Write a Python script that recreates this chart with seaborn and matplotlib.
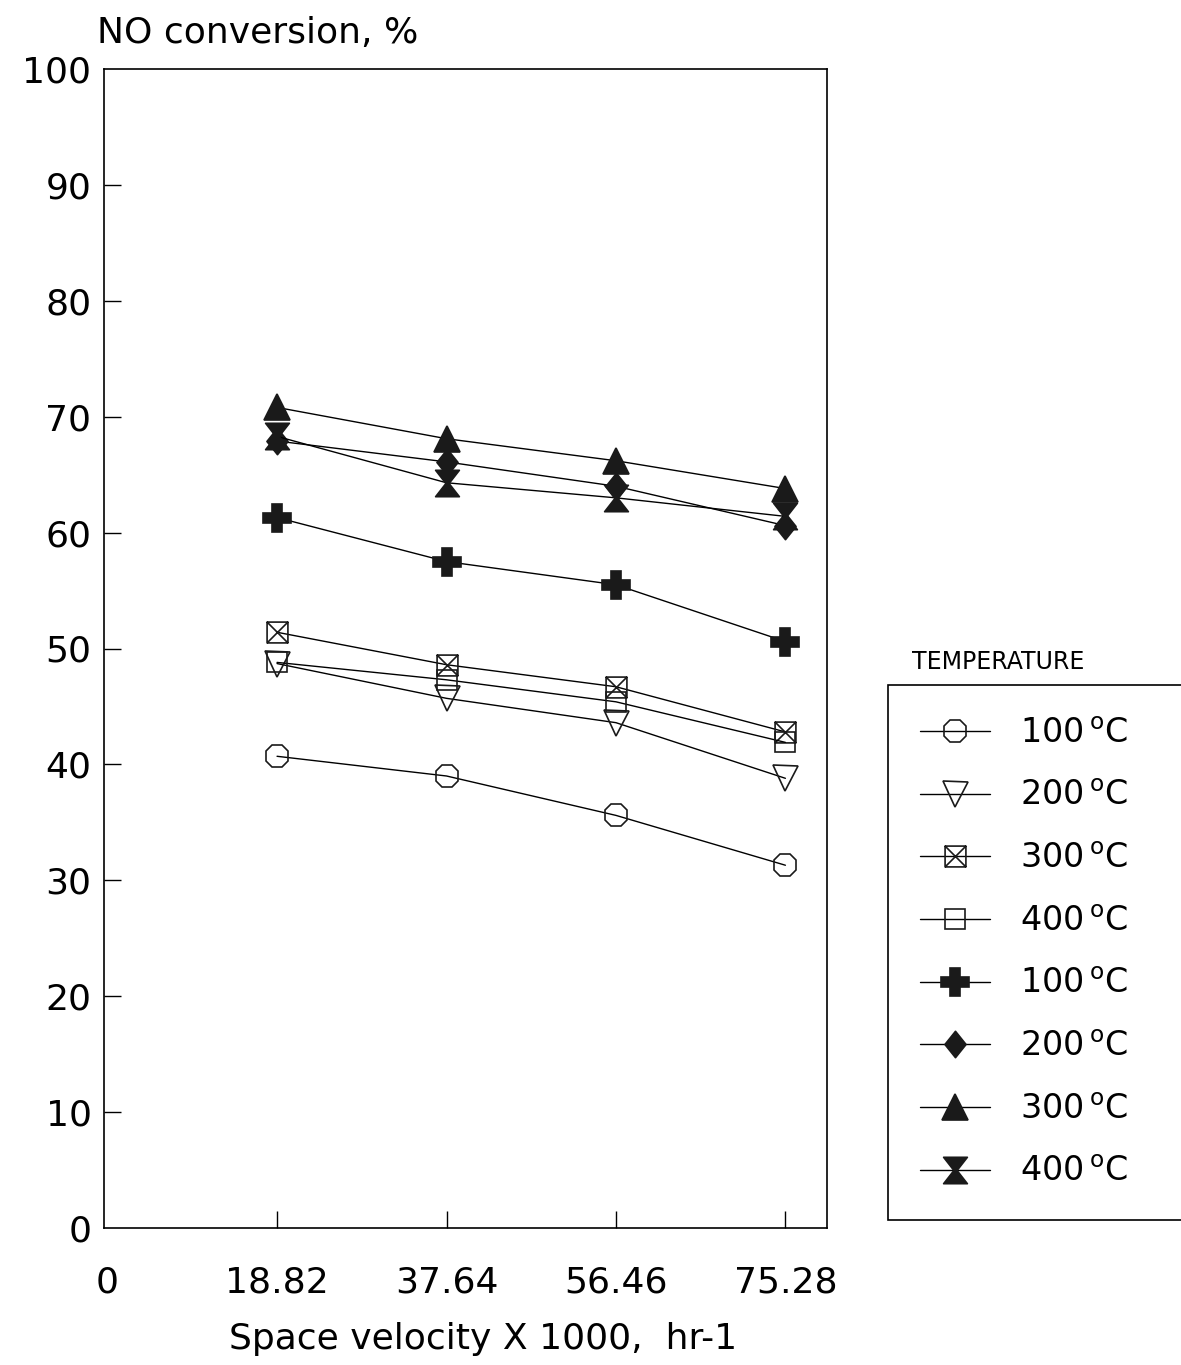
import numpy as np
import seaborn as sns
import matplotlib.pyplot as plt
from matplotlib.path import Path

# space velocity x 1000, hr-1
velocity = [18.82, 37.64, 56.46, 75.28]
tick_labels = ["0", "18.82", "37.64", "56.46", "75.28"]

# NO conversion, %  (open symbols)
open_100 = [40.7, 39.0, 35.6, 31.3]
open_200 = [48.7, 45.7, 43.6, 38.8]
open_300 = [51.4, 48.6, 46.7, 42.8]
open_400 = [48.8, 47.3, 45.4, 41.9]
# filled symbols
filled_100 = [61.3, 57.5, 55.5, 50.6]
filled_200 = [67.9, 66.1, 64.0, 60.6]
filled_300 = [70.8, 68.1, 66.2, 63.8]
filled_400 = [68.3, 64.3, 63.0, 61.4]

labels = ["100$\\,^{\\mathrm{o}}$C", "200$\\,^{\\mathrm{o}}$C",
          "300$\\,^{\\mathrm{o}}$C", "400$\\,^{\\mathrm{o}}$C"] * 2

# custom marker shapes
crossed_box = Path([(-1, -1), (1, -1), (1, 1), (-1, 1), (-1, -1), (1, 1), (-1, 1), (1, -1)],
                   [Path.MOVETO, Path.LINETO, Path.LINETO, Path.LINETO, Path.LINETO,
                    Path.LINETO, Path.MOVETO, Path.LINETO])
diamond = Path([(0, 1), (0.8, 0), (0, -1), (-0.8, 0), (0, 1)],
               [Path.MOVETO, Path.LINETO, Path.LINETO, Path.LINETO, Path.CLOSEPOLY])
hourglass = Path([(-0.9, 1), (0.9, 1), (0.12, 0), (0.9, -1), (-0.9, -1), (-0.12, 0), (-0.9, 1)],
                 [Path.MOVETO, Path.LINETO, Path.LINETO, Path.LINETO, Path.LINETO,
                  Path.LINETO, Path.CLOSEPOLY])

series = [open_100, open_200, open_300, open_400, filled_100, filled_200, filled_300, filled_400]
markers = ["8", "v", crossed_box, "s", "P", diamond, "^", hourglass]
sizes = [17, 18, 15, 15, 20, 19, 19, 19]
filled = [False] * 4 + [True] * 4

sns.set_style("ticks")
plt.rcParams["font.family"] = ["DejaVu Sans"]
plt.rcParams["mathtext.fontset"] = "dejavusans"
plt.rcParams["text.color"] = "black"
plt.rcParams["axes.labelcolor"] = "black"

fig = plt.figure(figsize=(11.81, 13.65), dpi=100)
ax = fig.add_axes([104 / 1181, 1 - 1228 / 1365, 723 / 1181, 1159 / 1365])

for vals, mk, ms, fl, lab in zip(series, markers, sizes, filled, labels):
    sns.lineplot(x=velocity, y=vals, ax=ax, color="black", linewidth=1.0,
                 marker=mk, markersize=ms, markeredgewidth=1.2,
                 markeredgecolor="#1a1a1a",
                 markerfacecolor="#1a1a1a" if fl else "none",
                 label=lab)

ax.set_xlim(-0.4, 79.9)
ax.set_ylim(0, 100)
ax.set_xticks([0] + velocity)
ax.set_xticklabels(tick_labels)
ax.set_yticks(np.arange(0, 101, 10))
ax.tick_params(direction="in", length=12, width=1, labelsize=26, colors="black")
ax.tick_params(axis="x", pad=27)
ax.tick_params(axis="y", pad=9)
# no tick marks where the ticks sit on the frame
ax.xaxis.get_major_ticks()[0].tick1line.set_visible(False)
ax.yaxis.get_major_ticks()[0].tick1line.set_visible(False)
ax.yaxis.get_major_ticks()[-1].tick1line.set_visible(False)
for s in ax.spines.values():
    s.set_linewidth(1.2)
    s.set_color("black")

ax.set_xlabel("Space velocity X 1000,  hr-1", fontsize=26)
ax.xaxis.set_label_coords(0.524, -0.081)
ax.set_ylabel("")
fig.text(97 / 1181, 1 - 33 / 1365, "NO conversion, %", fontsize=26, ha="left", va="center")

leg = ax.legend(loc="upper left", bbox_to_anchor=(888 / 1181, 0, 0.35, 1 - 685 / 1365),
                bbox_transform=fig.transFigure, mode="expand", borderaxespad=0,
                fontsize=24, frameon=True, fancybox=False, framealpha=1,
                edgecolor="black", handlelength=2.1, handletextpad=0.9,
                labelspacing=0.89, borderpad=0.95)
leg.get_frame().set_linewidth(1.2)
for t in leg.get_texts():
    t.set_color("black")
fig.text(912 / 1181, 1 - 662 / 1365, "TEMPERATURE", fontsize=17, ha="left", va="center")

fig.savefig("out.png", dpi=100, facecolor="white")
